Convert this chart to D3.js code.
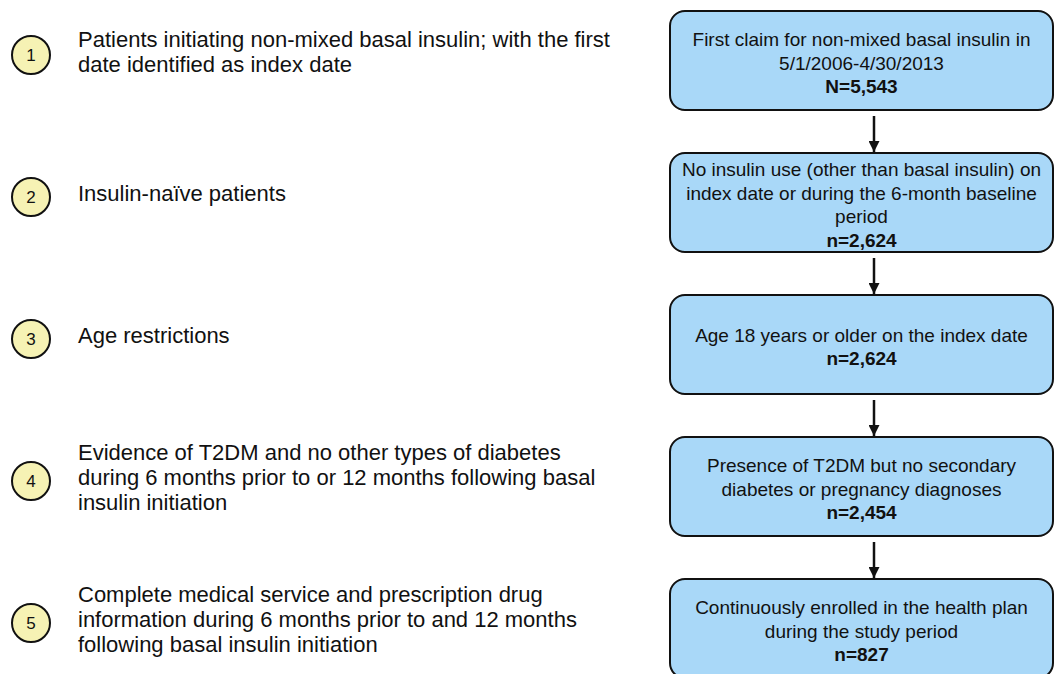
<!DOCTYPE html>
<html>
<head>
<meta charset="utf-8">
<script src="https://cdnjs.cloudflare.com/ajax/libs/d3/7.8.5/d3.min.js"></script>
<style>
  body { margin: 0; background: #fff; }
  text { font-family: "Liberation Sans", Arial, sans-serif; }
</style>
</head>
<body>
<div id="chart"></div>
<script>
//~~~~~~~~~~~~~~~~~~DATA
let steps = ['1', '2', '3', '4', '5'];

let criteria = [
  ['Patients initiating non-mixed basal insulin; with the first', 'date identified as index date'],
  ['Insulin-na\u00efve patients'],
  ['Age restrictions'],
  ['Evidence of T2DM and no other types of diabetes', 'during 6 months prior to or 12 months following basal', 'insulin initiation'],
  ['Complete medical service and prescription drug', 'information during 6 months prior to and 12 months', 'following basal insulin initiation']
];

let boxText = [
  ['First claim for non-mixed basal insulin in', '5/1/2006-4/30/2013'],
  ['No insulin use (other than basal insulin) on', 'index date or during the 6-month baseline', 'period'],
  ['Age 18 years or older on the index date'],
  ['Presence of T2DM but no secondary', 'diabetes or pregnancy diagnoses'],
  ['Continuously enrolled in the health plan', 'during the study period']
];

let counts = ['N=5,543', 'n=2,624', 'n=2,624', 'n=2,454', 'n=827'];

//~~~~~~~~~~~~~~~~~~LAYOUT
let width = 1054;
let height = 674;

let boxLeft = 670;
let boxRight = 1053;
let arrowX = 874;
let lineH = 23.5;
let leftLineH = 25;

//one row per step, evenly spaced down the page
let y = d3.scalePoint().domain(steps).range([55, 623]);

let svg = d3.select('#chart')
  .append('svg')
  .attr('width', width)
  .attr('height', height);

svg.append('defs').append('marker')
  .attr('id', 'head')
  .attr('viewBox', '0 0 10 10')
  .attr('refX', 10)
  .attr('refY', 5)
  .attr('markerWidth', 11)
  .attr('markerHeight', 11)
  .attr('markerUnits', 'userSpaceOnUse')
  .attr('orient', 'auto')
  .append('path')
  .attr('d', 'M0,0 L10,5 L0,10 Z')
  .attr('fill', '#111');

let rows = svg.selectAll('.row')
  .data(steps)
  .enter()
  .append('g')
  .attr('class', 'row');

//numbered circles
rows.append('circle')
  .attr('cx', 31)
  .attr('cy', d => y(d))
  .attr('r', 19)
  .attr('fill', '#f6f2b4')
  .attr('stroke', '#111')
  .attr('stroke-width', 2);

rows.append('text')
  .attr('x', 31)
  .attr('y', d => y(d) + 6)
  .attr('text-anchor', 'middle')
  .attr('font-size', 17)
  .attr('fill', '#111')
  .text(d => d);

//left criteria text
rows.append('text')
  .attr('font-size', 22)
  .attr('fill', '#111')
  .each(function(d, i) {
    let lines = criteria[i];
    let top = y(d) - 5 - (lines.length - 1) * leftLineH / 2 + 9;
    d3.select(this).selectAll('tspan')
      .data(lines)
      .enter()
      .append('tspan')
      .attr('x', 78)
      .attr('y', (l, j) => top + j * leftLineH)
      .text(l => l);
  });

//boxes
let boxTop = d => y(d) - 44;
let boxBottom = d => y(d) + 55;

rows.append('rect')
  .attr('x', boxLeft)
  .attr('y', boxTop)
  .attr('width', boxRight - boxLeft)
  .attr('height', d => boxBottom(d) - boxTop(d))
  .attr('rx', 15)
  .attr('fill', '#a9d8f8')
  .attr('stroke', '#111')
  .attr('stroke-width', 2);

rows.append('text')
  .attr('font-size', 19)
  .attr('fill', '#111')
  .attr('text-anchor', 'middle')
  .each(function(d, i) {
    let lines = boxText[i].concat([counts[i]]);
    let mid = (boxTop(d) + boxBottom(d)) / 2 + 2;
    let top = mid - (lines.length - 1) * lineH / 2 + 7;
    d3.select(this).selectAll('tspan')
      .data(lines)
      .enter()
      .append('tspan')
      .attr('x', (boxLeft + boxRight) / 2)
      .attr('y', (l, j) => top + j * lineH)
      .attr('font-weight', (l, j) => j === lines.length - 1 ? 'bold' : 'normal')
      .text(l => l);
  });

//arrows between boxes
svg.selectAll('.arrow')
  .data(steps.slice(1))
  .enter()
  .append('line')
  .attr('class', 'arrow')
  .attr('x1', arrowX)
  .attr('x2', arrowX)
  .attr('y1', (d, i) => boxBottom(steps[i]) + 6)
  .attr('y2', d => boxTop(d) - 1)
  .attr('stroke', '#111')
  .attr('stroke-width', 2.5)
  .attr('marker-end', 'url(#head)');
</script>
</body>
</html>
